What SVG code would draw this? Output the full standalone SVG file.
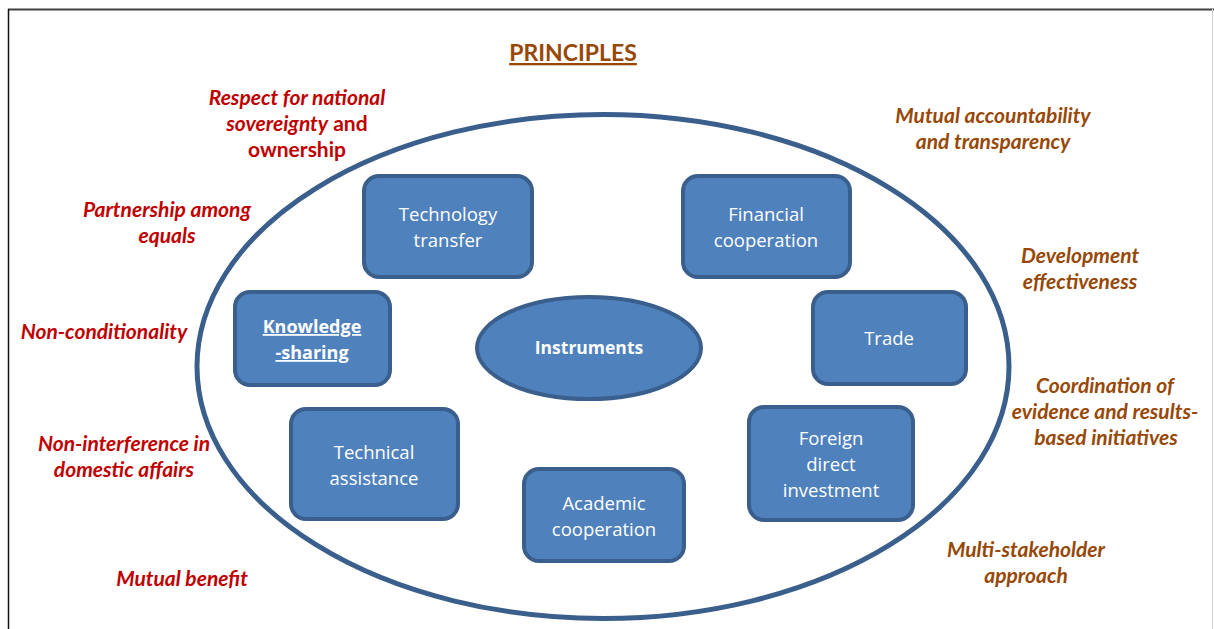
<svg xmlns="http://www.w3.org/2000/svg" width="1214" height="629" viewBox="0 0 1214 629">
<style>
.box{fill:#4f81bd;stroke:#3a5f8c;stroke-width:4}
.bt{font-family:"Open Sans","DejaVu Sans",sans-serif;font-size:18.5px;fill:#ffffff;text-anchor:middle}
.red{font-family:Lato,"Open Sans",sans-serif;font-size:21px;font-weight:bold;font-style:italic;fill:#c00000;text-anchor:middle}
.brn{font-family:Lato,"Open Sans",sans-serif;font-size:21px;font-weight:bold;font-style:italic;fill:#984806;text-anchor:middle}
</style>
<rect width="1214" height="629" fill="#ffffff"/>
<g id="frame">
<line x1="8" y1="9.5" x2="1214" y2="9.5" stroke="#404040" stroke-width="2"/>
<line x1="8.5" y1="9" x2="8.5" y2="629" stroke="#111111" stroke-width="1.5"/>
<line x1="1212.5" y1="9" x2="1212.5" y2="629" stroke="#d0d0d0" stroke-width="1"/>
</g>
<g id="title">
<text x="573" y="61" font-family="Lato,'Open Sans',sans-serif" font-size="23" font-weight="bold" fill="#984806" text-anchor="middle" text-decoration="underline">PRINCIPLES</text>
</g>
<g id="outer-ellipse">
<ellipse cx="603" cy="366.5" rx="406" ry="252" fill="none" stroke="#3a5f8c" stroke-width="5"/>
</g>
<g id="principles-left">
<text class="red" x="297" y="105">Respect for national</text>
<text class="red" x="297" y="131">sovereignty<tspan style="font-style:normal"> and</tspan></text>
<text class="red" x="297" y="157" style="font-style:normal">ownership</text>
<text class="red" x="167" y="217">Partnership among</text>
<text class="red" x="167" y="243">equals</text>
<text class="red" x="104" y="339">Non-conditionality</text>
<text class="red" x="124" y="451">Non-interference in</text>
<text class="red" x="124" y="477">domestic affairs</text>
<text class="red" x="182" y="586">Mutual benefit</text>
</g>
<g id="principles-right">
<text class="brn" x="993" y="123">Mutual accountability</text>
<text class="brn" x="993" y="149">and transparency</text>
<text class="brn" x="1080" y="263">Development</text>
<text class="brn" x="1080" y="289">effectiveness</text>
<text class="brn" x="1105" y="393">Coordination of</text>
<text class="brn" x="1105" y="419">evidence and results-</text>
<text class="brn" x="1106" y="445">based initiatives</text>
<text class="brn" x="1026" y="557">Multi-stakeholder</text>
<text class="brn" x="1026" y="583">approach</text>
</g>
<g id="technology-transfer">
<rect class="box" x="364" y="176" width="168" height="101" rx="15"/>
<text class="bt" x="448" y="221">Technology</text>
<text class="bt" x="448" y="247">transfer</text>
</g>
<g id="financial-cooperation">
<rect class="box" x="683" y="176" width="167" height="101" rx="15"/>
<text class="bt" x="766" y="221">Financial</text>
<text class="bt" x="766" y="247">cooperation</text>
</g>
<g id="knowledge-sharing">
<rect class="box" x="235" y="292" width="155" height="93" rx="15"/>
<text class="bt" x="312" y="333" font-weight="bold" style="font-size:18px" text-decoration="underline">Knowledge</text>
<text class="bt" x="312" y="359" font-weight="bold" style="font-size:18px" text-decoration="underline">-sharing</text>
</g>
<g id="trade">
<rect class="box" x="813" y="292" width="153" height="92" rx="15"/>
<text class="bt" x="889" y="345">Trade</text>
</g>
<g id="instruments">
<ellipse cx="589" cy="348" rx="112" ry="51" fill="#4f81bd" stroke="#3a5f8c" stroke-width="4"/>
<text class="bt" x="589" y="354" font-weight="bold" style="font-size:17.5px">Instruments</text>
</g>
<g id="technical-assistance">
<rect class="box" x="291" y="409" width="167" height="110" rx="15"/>
<text class="bt" x="374" y="459">Technical</text>
<text class="bt" x="374" y="485">assistance</text>
</g>
<g id="foreign-direct-investment">
<rect class="box" x="749" y="407" width="164" height="113" rx="15"/>
<text class="bt" x="831" y="445">Foreign</text>
<text class="bt" x="831" y="471">direct</text>
<text class="bt" x="831" y="497">investment</text>
</g>
<g id="academic-cooperation">
<rect class="box" x="524" y="469" width="160" height="92" rx="15"/>
<text class="bt" x="604" y="510">Academic</text>
<text class="bt" x="604" y="536">cooperation</text>
</g>
<g id="connectors"></g>
</svg>
